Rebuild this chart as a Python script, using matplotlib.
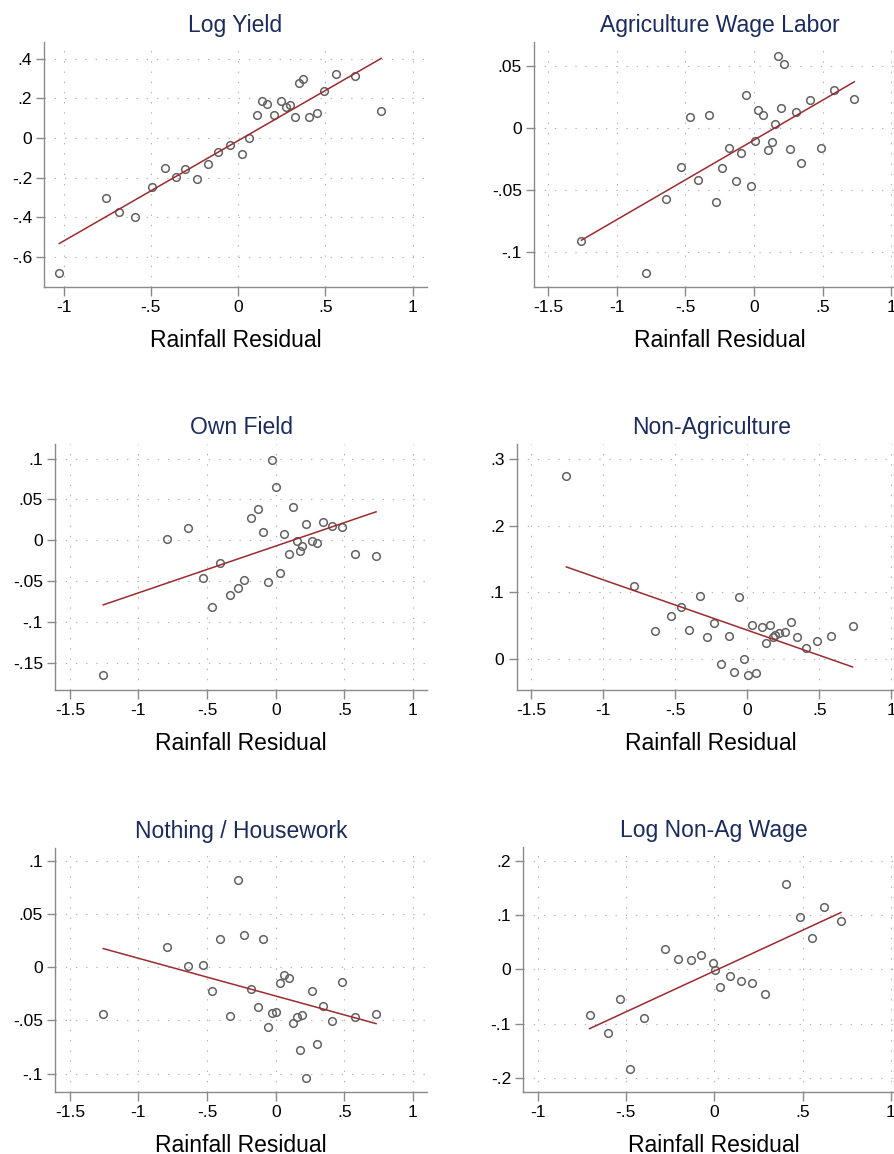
import numpy as np
import matplotlib
matplotlib.use("Agg")
import matplotlib.pyplot as plt

plt.rcParams['font.family'] = ['Liberation Sans', 'DejaVu Sans']

# datos
log_yield_x = [-1.024, -0.756, -0.682, -0.590, -0.495, -0.418, -0.357, -0.304, -0.237, -0.170,
               -0.118, -0.046, 0.023, 0.065, 0.107, 0.136, 0.164, 0.206, 0.246, 0.273,
               0.298, 0.325, 0.348, 0.371, 0.405, 0.449, 0.489, 0.562, 0.670, 0.819]
log_yield_y = [-0.679, -0.301, -0.373, -0.400, -0.245, -0.151, -0.198, -0.156, -0.205, -0.133,
               -0.069, -0.037, -0.079, 0.000, 0.114, 0.185, 0.171, 0.118, 0.185, 0.156,
               0.165, 0.108, 0.277, 0.299, 0.106, 0.128, 0.235, 0.321, 0.314, 0.136]

# residuo de lluvia compartido por los paneles de ocupacion
rain_x = [-1.257, -0.789, -0.638, -0.529, -0.464, -0.405, -0.330, -0.277, -0.231, -0.180,
          -0.129, -0.095, -0.056, -0.024, 0.005, 0.032, 0.063, 0.100, 0.129, 0.155,
          0.175, 0.194, 0.221, 0.265, 0.303, 0.345, 0.410, 0.485, 0.580, 0.731]
ag_wage_y = [-0.0914, -0.1170, -0.0573, -0.0315, 0.0089, -0.0422, 0.0102, -0.0594, -0.0323, -0.0161,
             -0.0425, -0.0204, 0.0266, -0.0470, -0.0105, 0.0145, 0.0108, -0.0175, -0.0116, 0.0035,
             0.0578, 0.0159, 0.0513, -0.0172, 0.0132, -0.0285, 0.0228, -0.0164, 0.0304, 0.0231]
own_field_y = [-0.1654, 0.0012, 0.0151, -0.0466, -0.0813, -0.0278, -0.0670, -0.0588, -0.0486, 0.0278,
               0.0384, 0.0106, -0.0507, 0.0985, 0.0650, -0.0400, 0.0082, -0.0163, 0.0413, -0.0008,
               -0.0131, -0.0069, 0.0196, -0.0004, -0.0033, 0.0221, 0.0180, 0.0159, -0.0163, -0.0188]
non_ag_y = [0.274, 0.110, 0.0425, 0.0645, 0.078, 0.0435, 0.0945, 0.0325, 0.054, -0.0075,
            0.034, -0.0195, 0.0925, -0.0005, -0.0245, 0.0515, -0.0205, 0.0485, 0.0235, 0.051,
            0.0325, 0.036, 0.0395, 0.0405, 0.056, 0.0325, 0.0165, 0.0275, 0.035, 0.050]
housework_y = [-0.0436, 0.0191, 0.0009, 0.0025, -0.0219, 0.0263, -0.0461, 0.0821, 0.0304, -0.0207,
               -0.0376, 0.0270, -0.0564, -0.0433, -0.0423, -0.0150, -0.0075, -0.0103, -0.0520, -0.0470,
               -0.0777, -0.0451, -0.1038, -0.0219, -0.0724, -0.0361, -0.0508, -0.0138, -0.0464, -0.0442]

wage_x = [-0.706, -0.604, -0.532, -0.477, -0.396, -0.279, -0.206, -0.134, -0.074, -0.006,
          0.002, 0.030, 0.087, 0.151, 0.213, 0.289, 0.408, 0.487, 0.553, 0.619, 0.717]
wage_y = [-0.0837, -0.1175, -0.0542, -0.1846, -0.0905, 0.0375, 0.0185, 0.0166, 0.0265, 0.0123,
          -0.0012, -0.0332, -0.0129, -0.0215, -0.0246, -0.0462, 0.157, 0.0966, 0.0572, 0.1145, 0.0898]

titulos = ["Log Yield", "Agriculture Wage Labor", "Own Field",
           "Non-Agriculture", "Nothing / Housework", "Log Non-Ag Wage"]

W, H = 894, 1154
fig = plt.figure(figsize=(W / 100, H / 100), dpi=100)
fig.patch.set_facecolor('white')

color_titulo = '#1b2c5c'
color_eje = '#8a8a8a'
color_punto = '#626262'
color_linea = '#9c2b30'


def fmt(v):
    s = f"{round(v, 6):g}"
    s = s.replace("0.", ".")
    return s


def panel(box, x, y, titulo, xlim, ylim, xticks, yticks):
    izq, arriba, der, abajo = box
    ax = fig.add_axes([izq / W, 1 - abajo / H, (der - izq) / W, (abajo - arriba) / H])
    ax.set_facecolor('white')
    for lado in ['top', 'right']:
        ax.spines[lado].set_visible(False)
    for lado in ['left', 'bottom']:
        ax.spines[lado].set_color(color_eje)
        ax.spines[lado].set_linewidth(1.0)

    ax.set_xlim(*xlim)
    ax.set_ylim(*ylim)
    ax.set_xticks(xticks)
    ax.set_yticks(yticks)
    ax.set_xticklabels([fmt(v) for v in xticks])
    ax.set_yticklabels([fmt(v) for v in yticks])
    ax.tick_params(axis='x', length=6.3, width=1.0, color=color_eje, pad=3.2, labelsize=12.5)
    ax.tick_params(axis='y', length=5.8, width=1.0, color=color_eje, pad=3.0, labelsize=12.5)
    ax.grid(True, color='#b0b0b0', linewidth=0.8, linestyle=(0, (1.2, 8)))
    ax.set_axisbelow(True)

    x = np.array(x)
    y = np.array(y)
    ax.plot(x, y, 'o', ms=5.5, mfc='none', mec=color_punto, mew=1.1, zorder=3)
    b, a = np.polyfit(x, y, 1)
    xs = np.array([x.min(), x.max()])
    ax.plot(xs, a + b * xs, color=color_linea, lw=1.1, zorder=4)

    cx = (izq + der) / 2 / W
    fig.text(cx, 1 - (arriba - 10) / H, titulo, ha='center', va='baseline',
             fontsize=16.5, color=color_titulo)
    fig.text(cx, 1 - (abajo + 60) / H, "Rainfall Residual", ha='center', va='baseline',
             fontsize=16.5, color='black')
    return ax


xt_a = [-1, -0.5, 0, 0.5, 1]
xt_b = [-1.5, -1, -0.5, 0, 0.5, 1]

panel((44.3, 42.3, 426.7, 287), log_yield_x, log_yield_y, titulos[0],
      (-1.11, 1.08), (-0.751, 0.483), xt_a, [0.4, 0.2, 0, -0.2, -0.4, -0.6])
panel((534, 42.3, 905, 287.3), rain_x, ag_wage_y, titulos[1],
      (-1.602, 1.1), (-0.1285, 0.0691), xt_b, [0.05, 0, -0.05, -0.1])
panel((55.3, 444.3, 426.7, 690), rain_x, own_field_y, titulos[2],
      (-1.606, 1.10), (-0.1834, 0.1176), xt_b, [0.1, 0.05, 0, -0.05, -0.1, -0.15])
panel((516.7, 444.3, 905.7, 690), rain_x, non_ag_y, titulos[3],
      (-1.602, 1.1), (-0.0465, 0.322), xt_b, [0.3, 0.2, 0.1, 0])
panel((55.3, 847.7, 426.7, 1092.3), rain_x, housework_y, titulos[4],
      (-1.606, 1.10), (-0.1176, 0.1125), xt_b, [0.1, 0.05, 0, -0.05, -0.1])
panel((523.3, 847, 905, 1092.3), wage_x, wage_y, titulos[5],
      (-1.081, 1.08), (-0.227, 0.226), xt_a, [0.2, 0.1, 0, -0.1, -0.2])

fig.savefig("out.png", dpi=100)
